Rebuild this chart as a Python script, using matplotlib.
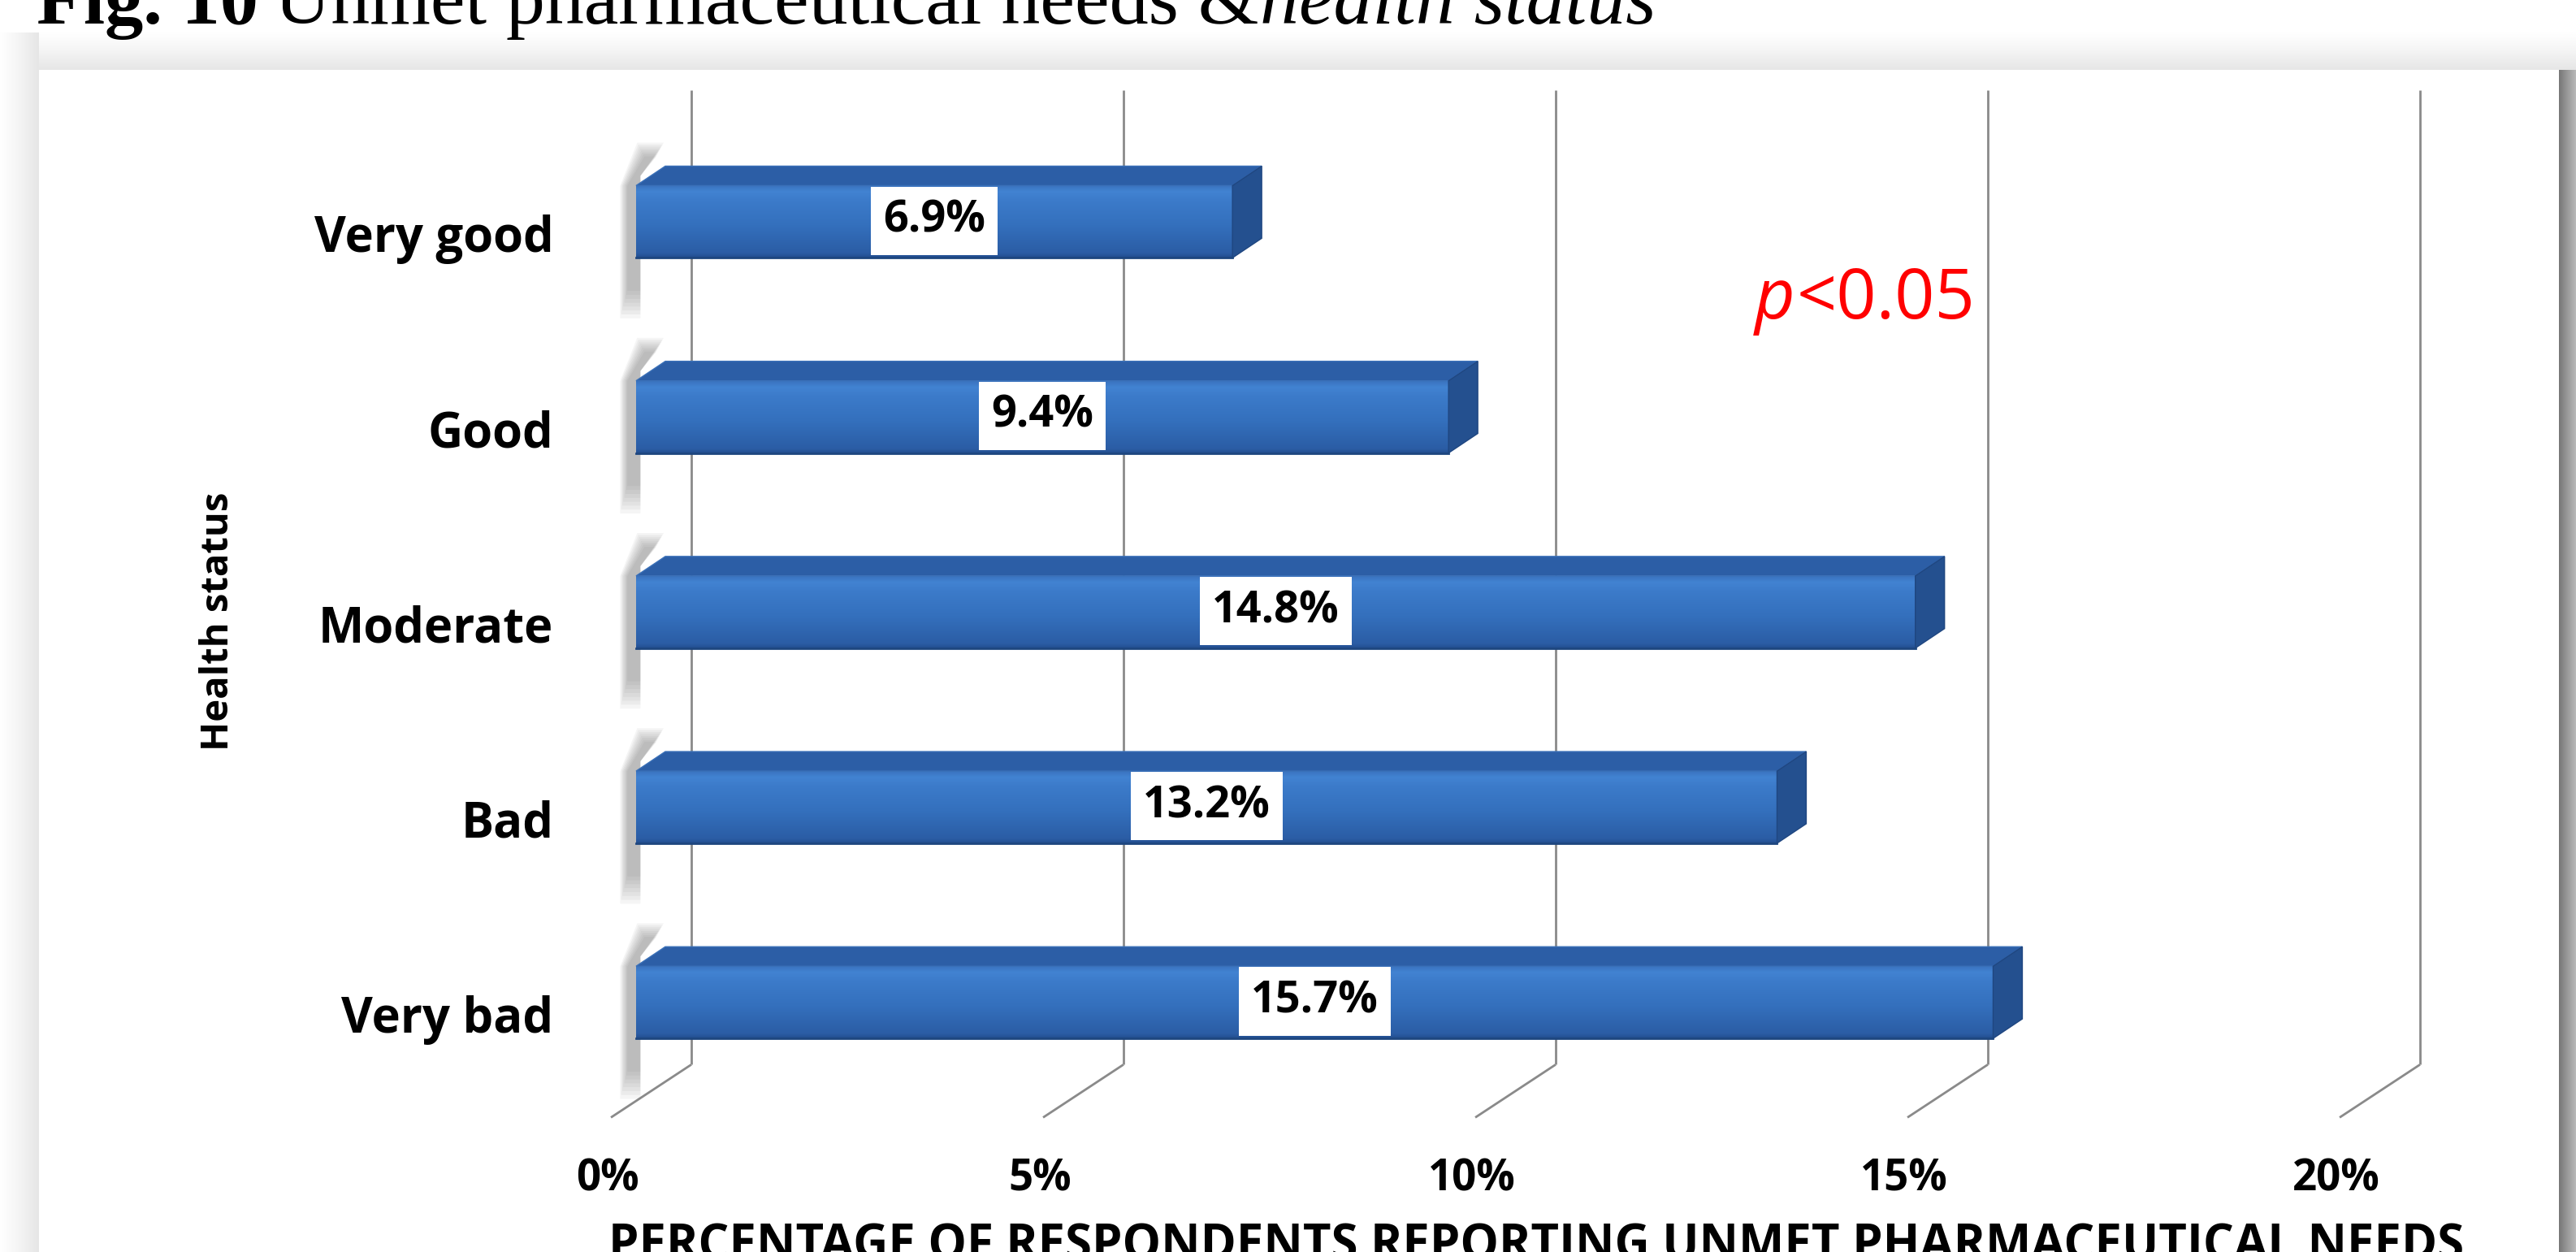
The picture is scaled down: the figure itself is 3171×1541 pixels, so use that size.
import numpy as np
import matplotlib.pyplot as plt
from matplotlib.patches import Polygon, Rectangle
from matplotlib.colors import LinearSegmentedColormap
from matplotlib.transforms import IdentityTransform

categories = ['Very bad', 'Bad', 'Moderate', 'Good', 'Very good']
values = [15.7, 13.2, 14.8, 9.4, 6.9]
ticks = [0, 5, 10, 15, 20]
tick_labels = ['0%', '5%', '10%', '15%', '20%']
xlabel = 'PERCENTAGE OF RESPONDENTS REPORTING UNMET PHARMACEUTICAL NEEDS'
ylabel = 'Health status'

W, H = 3171, 1541
fig = plt.figure(figsize=(W / 100, H / 100), dpi=100)
fig.patch.set_facecolor('white')

# page frame with its soft drop shadow (pixel coordinates)
bg = fig.add_axes([0, 0, 1, 1])
bg.axis('off')
shade = LinearSegmentedColormap.from_list('shade', ['#ffffff', '#f4f4f4', '#e6e6e6'])
bg.imshow(np.linspace(0, 1, 64)[:, None], cmap=shade, extent=(0, W, 86, 40),
          aspect='auto', interpolation='bilinear')
bg.imshow(np.linspace(0, 1, 64)[None, :], cmap=shade, extent=(0, 48, H, 40),
          aspect='auto', interpolation='bilinear')
edge = LinearSegmentedColormap.from_list('edge', ['#777777', '#9a9a9a', '#b8b8b8'])
bg.imshow(np.linspace(0, 1, 32)[None, :], cmap=edge, extent=(3150, W, H, 86),
          aspect='auto', interpolation='bilinear')
bg.add_patch(Rectangle((48, 86), 3150 - 48, H - 86, facecolor='white', edgecolor='none'))
bg.set_xlim(0, W)
bg.set_ylim(H, 0)

# chart axes: x in percent on the bars' front plane, y in category slots
ax = fig.add_axes([0, 0, 1, 1])
ax.patch.set_alpha(0)
ax.axis('off')
PX = 106.4     # pixels per percent
YU = 240.2     # pixels per category slot
X0 = 783.0
Y0 = 307.3
xlim = (-X0 / PX, (W - X0) / PX)
ylim = (-Y0 / YU, (H - Y0) / YU)

bar_h = 0.37
ddx, ddy = 0.338, 0.10           # bar depth
wall_dx, wall_y = 0.639, -0.319  # back wall / floor corner
front_dx, front_y = -0.291, -0.590
wall_top = 4.674

grid_c = '#8a8a8a'
for t in ticks:
    ax.plot([t + wall_dx, t + wall_dx], [wall_y, wall_top], color=grid_c, lw=2.0,
            zorder=1, solid_capstyle='butt')
    ax.plot([t + wall_dx, t + front_dx], [wall_y, front_y], color=grid_c, lw=2.0,
            zorder=1, solid_capstyle='butt')

front_cmap = LinearSegmentedColormap.from_list(
    'front', [(0.0, '#234f91'), (0.06, '#2b5da5'), (0.45, '#3470bd'),
              (0.8, '#3c7bca'), (0.92, '#4283d2'), (1.0, '#3a74c0')])

ypos = np.arange(len(categories))
for y, v, name in zip(ypos, values, categories):
    lo, hi = y - bar_h / 2, y + bar_h / 2
    # blurred shadow behind the bar's left end, built from stacked translucent layers
    for k in range(8):
        g = 0.012 * k
        ax.add_patch(Polygon([(-0.10 - g, lo - 0.17 - 0.02 * k), (0.05, lo - 0.17 - 0.02 * k),
                              (0.05, hi + ddy * 0.5), (ddx * 0.7 + g, hi + ddy + 0.05 + 0.01 * k),
                              (ddx * 0.7 - 0.14 - g, hi + ddy + 0.05 + 0.01 * k),
                              (-0.10 - g, hi)],
                             closed=True, facecolor='#5a5a5a', edgecolor='none',
                             alpha=0.06, zorder=2))
    ax.imshow(np.linspace(0, 1, 64)[:, None], cmap=front_cmap, origin='lower',
              extent=(0, v, lo, hi), aspect='auto', interpolation='bilinear', zorder=3)
    ax.add_patch(Polygon([(0, hi), (v, hi), (v + ddx, hi + ddy), (ddx, hi + ddy)],
                         closed=True, facecolor='#2c5ea6', edgecolor='#3a70b8',
                         lw=1, zorder=4))
    ax.add_patch(Polygon([(v, lo), (v, hi), (v + ddx, hi + ddy), (v + ddx, lo + ddy)],
                         closed=True, facecolor='#24508f', edgecolor='#1f4680',
                         lw=1, zorder=4))
    ax.plot([0, v], [lo, lo], color='#1d467f', lw=2, zorder=4)
    ax.text(v / 2, y + 0.005, f'{v}%', ha='center', va='center', fontsize=39,
            fontweight='bold', family='Open Sans', color='black', zorder=6,
            bbox=dict(boxstyle='square,pad=0.28', facecolor='white', edgecolor='none'))
    ax.text(-0.954, y - 0.09, name, ha='right', va='center', fontsize=43,
            fontweight='bold', family='Open Sans', color='black')

for t, lab in zip(ticks, tick_labels):
    ax.text(t + front_dx - 0.04, -0.908, lab, ha='center', va='center', fontsize=38,
            fontweight='bold', family='Open Sans')

ax.text(10.41, -1.318, xlabel, ha='center', va='baseline', fontsize=43,
        fontweight='bold', family='Open Sans')
ax.text(-4.84, 1.95, ylabel, ha='center', va='center', rotation=90, fontsize=34,
        fontweight='bold', family='Open Sans')
ax.set_xlim(*xlim)
ax.set_ylim(*ylim)


def put_runs(x, y, runs):
    renderer = fig.canvas.get_renderer()
    for s, props, gap in runs:
        t = fig.text(x, y, s, transform=IdentityTransform(), va='baseline', **props)
        x = t.get_window_extent(renderer).x1 + gap


put_runs(2160, H - 392, [('p', dict(fontsize=62, style='italic', family='Open Sans', color='red'), 2),
                         ('<0.05', dict(fontsize=62, family='Open Sans', color='red'), 0)])

serif = 'Liberation Serif'
put_runs(45, H - 29, [('Fig. 10', dict(fontsize=68, fontweight='bold', family=serif), 20),
                      ('Unmet pharmaceutical needs &', dict(fontsize=69, family=serif), 2),
                      ('health status', dict(fontsize=69, style='italic', family=serif), 0)])

fig.savefig('out.png', dpi=100, facecolor='white')
